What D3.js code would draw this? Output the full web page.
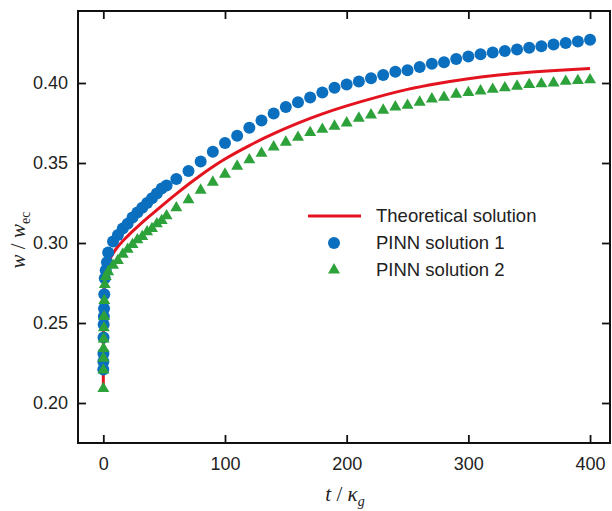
<!DOCTYPE html>
<html>
<head>
<meta charset="utf-8">
<script src="https://cdn.jsdelivr.net/npm/d3@7"></script>
<style>
  body { margin: 0; background: #fff; }
  svg { display: block; }
</style>
</head>
<body>
<div id="chart"></div>
<script>
// Theoretical solution (red line)
const theoryT = [0, 0.02, 0.05, 0.1, 0.2, 0.35, 0.5, 0.75, 1, 1.5, 2, 3, 4, 6, 8, 12, 16, 20, 25, 30,
    40, 50, 60, 70, 80, 90, 100, 120, 140, 160, 180, 200, 225, 250, 275, 300, 325, 350, 375, 400];
const theoryW = [0.210, 0.226, 0.235, 0.243, 0.252, 0.261, 0.267, 0.273, 0.2765, 0.280, 0.2825, 0.2853, 0.2875, 0.2908, 0.2935, 0.2978, 0.3012, 0.3043, 0.3080, 0.3115,
    0.3181, 0.3245, 0.3307, 0.3367, 0.3424, 0.3477, 0.3525, 0.3609, 0.3683, 0.3749, 0.3807, 0.3857, 0.3912, 0.3960, 0.3997, 0.4027, 0.4050, 0.4067, 0.4080, 0.4090];

// PINN solution 1 (blue dots)
const pinn1T = [0, 0.05, 0.1, 0.2, 0.3, 0.45, 0.6, 0.8, 1.2, 2, 3, 4, 8, 12, 16, 20, 24, 28, 32, 36, 40, 44, 48, 52,
    60, 70, 80, 90, 100, 110, 120, 130, 140, 150, 160, 170, 180, 190, 200, 210, 220, 230, 240, 250,
    260, 270, 280, 290, 300, 310, 320, 330, 340, 350, 360, 370, 380, 390, 400];
const pinn1W = [0.221, 0.226, 0.231, 0.241, 0.249, 0.254, 0.259, 0.268, 0.278, 0.283, 0.288, 0.294, 0.301, 0.305, 0.309, 0.312, 0.316, 0.319, 0.322, 0.325, 0.328, 0.331, 0.334, 0.336,
    0.340, 0.345, 0.351, 0.357, 0.3625, 0.367, 0.372, 0.3765, 0.381, 0.385, 0.388, 0.391, 0.394, 0.397, 0.399, 0.401, 0.403, 0.405, 0.407, 0.408,
    0.410, 0.412, 0.413, 0.415, 0.4165, 0.418, 0.419, 0.420, 0.421, 0.422, 0.423, 0.424, 0.425, 0.426, 0.427];

// PINN solution 2 (green triangles)
const pinn2T = [0, 0.05, 0.1, 0.2, 0.3, 0.45, 0.6, 0.8, 1.2, 2, 4, 8, 12, 16, 20, 24, 28, 32, 36, 40, 44, 48, 52,
    60, 70, 80, 90, 100, 110, 120, 130, 140, 150, 160, 170, 180, 190, 200, 210, 220, 230, 240, 250,
    260, 270, 280, 290, 300, 310, 320, 330, 340, 350, 360, 370, 380, 390, 400];
const pinn2W = [0.209, 0.2206, 0.228, 0.234, 0.240, 0.247, 0.254, 0.264, 0.274, 0.279, 0.282, 0.286, 0.289, 0.293, 0.296, 0.299, 0.302, 0.304, 0.307, 0.309, 0.312, 0.314, 0.317,
    0.322, 0.327, 0.333, 0.338, 0.343, 0.348, 0.352, 0.356, 0.360, 0.363, 0.366, 0.369, 0.371, 0.373, 0.375, 0.378, 0.380, 0.383, 0.385, 0.386,
    0.388, 0.390, 0.391, 0.393, 0.394, 0.395, 0.396, 0.397, 0.398, 0.399, 0.3995, 0.400, 0.401, 0.4015, 0.402];

const xTicks = [0, 100, 200, 300, 400];
const yTicks = [0.20, 0.25, 0.30, 0.35, 0.40];
const legendLabels = ['Theoretical solution', 'PINN solution 1', 'PINN solution 2'];

const width = 612, height = 511;
const plot = { left: 78, right: 610, top: 11, bottom: 443 };
const red = '#e3141f', blue = '#0b6fbf', green = '#2ea23a';

const svg = d3.select('#chart').append('svg')
    .attr('width', width)
    .attr('height', height);

const x = d3.scaleLinear().domain([-20.8, 416.4]).range([plot.left, plot.right]);
const y = d3.scaleLinear().domain([0.175, 0.445]).range([plot.bottom, plot.top]);

const tickLen = 8;
const font = '"Liberation Sans", Arial, sans-serif';

// axes (ticks inward on all four sides)
const axisB = svg.append('g')
    .attr('transform', `translate(0,${plot.bottom})`)
    .call(d3.axisBottom(x).tickValues(xTicks).tickSize(-tickLen).tickPadding(14).tickFormat(d3.format('d')));
const axisT = svg.append('g')
    .attr('transform', `translate(0,${plot.top})`)
    .call(d3.axisTop(x).tickValues(xTicks).tickSize(-tickLen).tickFormat(''));
const axisL = svg.append('g')
    .attr('transform', `translate(${plot.left},0)`)
    .call(d3.axisLeft(y).tickValues(yTicks).tickSize(-tickLen).tickPadding(10).tickFormat(d3.format('.2f')));
const axisR = svg.append('g')
    .attr('transform', `translate(${plot.right},0)`)
    .call(d3.axisRight(y).tickValues(yTicks).tickSize(-tickLen).tickFormat(''));

[axisB, axisT, axisL, axisR].forEach(g => {
    g.select('.domain').remove();
    g.selectAll('.tick line').attr('stroke', '#111').attr('stroke-width', 1.8);
    g.selectAll('.tick text')
        .attr('fill', '#222')
        .style('font-family', font)
        .style('font-size', '18px');
});

// frame
svg.append('rect')
    .attr('x', plot.left)
    .attr('y', plot.top)
    .attr('width', plot.right - plot.left)
    .attr('height', plot.bottom - plot.top)
    .attr('fill', 'none')
    .attr('stroke', '#111')
    .attr('stroke-width', 2);

// theoretical line
const theory = theoryT.map((t, i) => ({ t, w: theoryW[i] }));
const line = d3.line()
    .x(d => x(d.t))
    .y(d => y(d.w))
    .curve(d3.curveMonotoneX);

svg.append('path')
    .datum(theory)
    .attr('fill', 'none')
    .attr('stroke', red)
    .attr('stroke-width', 3)
    .attr('d', line);

// PINN 1 dots
svg.append('g').selectAll('circle')
    .data(pinn1T.map((t, i) => ({ t, w: pinn1W[i] })))
    .enter().append('circle')
    .attr('cx', d => x(d.t))
    .attr('cy', d => y(d.w))
    .attr('r', 6)
    .attr('fill', blue);

// PINN 2 triangles
const tri = d3.symbol().type(d3.symbolTriangle).size(62);
svg.append('g').selectAll('path')
    .data(pinn2T.map((t, i) => ({ t, w: pinn2W[i] })))
    .enter().append('path')
    .attr('d', tri)
    .attr('transform', d => `translate(${x(d.t)},${y(d.w)})`)
    .attr('fill', green);

// legend
const legend = svg.append('g');
legend.append('line')
    .attr('x1', 308).attr('x2', 361)
    .attr('y1', 216).attr('y2', 216)
    .attr('stroke', red)
    .attr('stroke-width', 3);
legend.append('circle')
    .attr('cx', 334).attr('cy', 243)
    .attr('r', 6)
    .attr('fill', blue);
legend.append('path')
    .attr('d', tri)
    .attr('transform', 'translate(334,270)')
    .attr('fill', green);
legend.selectAll('text')
    .data(legendLabels)
    .enter().append('text')
    .attr('x', 376)
    .attr('y', (d, i) => 216 + i * 27)
    .attr('dy', '0.35em')
    .attr('fill', '#222')
    .style('font-family', font)
    .style('font-size', '18.5px')
    .text(d => d);

// axis titles
const serif = '"Liberation Serif", "Times New Roman", serif';
const yTitle = svg.append('text')
    .attr('transform', 'translate(25,240) rotate(-90)')
    .attr('text-anchor', 'middle')
    .attr('fill', '#222')
    .style('font-family', serif)
    .style('font-size', '21px');
yTitle.append('tspan').style('font-style', 'italic').text('w');
yTitle.append('tspan').text(' / ');
yTitle.append('tspan').style('font-style', 'italic').text('w');
yTitle.append('tspan').attr('dy', 5).style('font-size', '14px').text('ec');

const xTitle = svg.append('text')
    .attr('x', 345)
    .attr('y', 501)
    .attr('text-anchor', 'middle')
    .attr('fill', '#222')
    .style('font-family', serif)
    .style('font-size', '21px');
xTitle.append('tspan').style('font-style', 'italic').text('t');
xTitle.append('tspan').text(' / ');
xTitle.append('tspan').style('font-style', 'italic').text('κ');
xTitle.append('tspan').attr('dy', 5).style('font-size', '14px').style('font-style', 'italic').text('g');
</script>
</body>
</html>
